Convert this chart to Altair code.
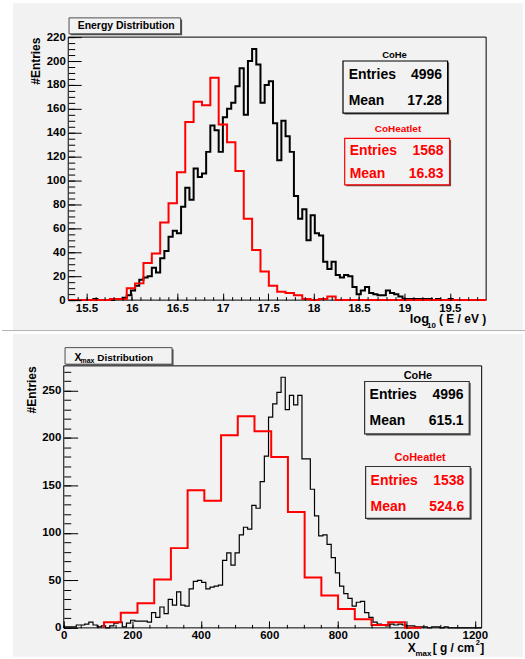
import altair as alt
import pandas as pd

FONT = "Liberation Sans"
PAD = "#f2f2f2"
RED = "#ff0000"

# ---------------- Energy distribution: log10(E / eV) ----------------
energy_domain = [15.3, 19.9]
energy_cohe_start, energy_cohe_width = 15.3, 0.046
energy_cohe_counts = [
    0, 0, 0, 0, 0, 0, 1, 0, 0, 0, 0, 1, 1, 2, 4, 8, 12, 17, 19, 20,
    27, 23, 35, 41, 53, 58, 56, 78, 94, 84, 110, 103, 106, 124, 146, 142, 124, 153, 160, 165,
    179, 194, 155, 200, 210, 197, 165, 180, 183, 148, 117, 150, 137, 124, 87, 68, 76, 50, 71, 56,
    54, 32, 26, 32, 21, 19, 21, 20, 11, 5, 8, 11, 6, 5, 4, 4, 8, 6, 5, 3,
    1, 1, 1, 1, 1, 1, 1, 0, 1, 0, 0, 1, 0, 0, 0, 0, 0, 0, 0, 0,
]
energy_coheatlet_start, energy_coheatlet_width = 15.3, 0.092
energy_coheatlet_counts = [
    0, 0, 0, 0, 0, 1, 1, 10, 14, 31, 39, 65, 81, 107, 149, 166, 163, 186, 147, 132,
    108, 68, 42, 24, 12, 7, 6, 4, 1, 0, 1, 3, 0, 0, 0, 0, 0, 0, 0, 0,
    0, 0, 0, 0, 0, 0, 0, 0, 0, 0,
]
energy_ticks = [15.5, 16, 16.5, 17, 17.5, 18, 18.5, 19, 19.5]
energy_minor = [round(15.4 + 0.1 * i, 1) for i in range(45)]
energy_count_ticks = list(range(0, 221, 20))
energy_count_minor = list(range(0, 221, 5))

# ---------------- Xmax distribution (g / cm^2) ----------------
xmax_domain = [0, 1220]
xmax_cohe_start, xmax_cohe_width = 0, 12.2
xmax_cohe_counts = [
    1, 1, 1, 3, 3, 4, 6, 3, 1, 2, 0, 2, 5, 6, 1, 5, 8, 7, 7, 7,
    6, 16, 11, 22, 15, 30, 24, 38, 24, 23, 41, 49, 50, 48, 41, 43, 44, 45, 71, 79,
    66, 79, 98, 106, 104, 129, 126, 154, 181, 222, 236, 248, 264, 230, 245, 235, 245, 178, 178, 146,
    118, 97, 98, 88, 74, 58, 44, 36, 31, 23, 27, 28, 16, 11, 6, 4, 3, 2, 4, 3,
    4, 3, 2, 2, 1, 1, 1, 0, 1, 1, 0, 1, 0, 0, 0, 0, 0, 0, 0, 0,
]
xmax_coheatlet_start, xmax_coheatlet_width = 117.6, 48.8
xmax_coheatlet_counts = [6, 16, 26, 51, 84, 145, 134, 203, 223, 207, 180, 122, 53, 34, 20, 9, 3, 6, 0]
xmax_ticks = [0, 200, 400, 600, 800, 1000, 1200]
xmax_minor = list(range(0, 1201, 50))
xmax_count_ticks = [0, 50, 100, 150, 200, 250]
xmax_count_minor = list(range(0, 271, 10))

# Statistics boxes
energy_stats = {"CoHe": (4996, "17.28"), "CoHeatlet": (1568, "16.83")}
xmax_stats = {"CoHe": (4996, "615.1"), "CoHeatlet": (1538, "524.6")}

W = 424
ONE = [{"k": 0}]


def outline(start, width, counts):
    """Closed step outline of a histogram, in data units."""
    edges = [start + width * i for i in range(len(counts) + 1)]
    xs, ys = [edges[0]], [0]
    for i, c in enumerate(counts):
        xs += [edges[i], edges[i + 1]]
        ys += [c, c]
    xs.append(edges[-1])
    ys.append(0)
    return pd.DataFrame({"x": xs, "y": ys, "i": range(len(xs))})


def rect(x1, x2, y1, y2, **style):
    return alt.Chart(alt.Data(values=ONE)).mark_rect(**style).encode(
        x=alt.value(x1), x2=alt.value(x2), y=alt.value(y1), y2=alt.value(y2)
    )


def label(x, y, s, size, color="black", align="left"):
    return alt.Chart(alt.Data(values=ONE)).mark_text(
        font=FONT, fontSize=size, fontWeight="bold", color=color, align=align,
        baseline="alphabetic",
    ).encode(x=alt.value(x), y=alt.value(y), text=alt.value(s))


def title_box(x1, x2, y1, y2):
    return [
        rect(x1 + 1.5, x2 + 1.5, y1 + 1.5, y2 + 1.5, fill="#4d4d4d"),
        rect(x1, x2, y1, y2, fill=PAD, stroke="#4d4d4d", strokeWidth=1),
    ]


def stat_box(x1, x2, y1, y2, border, name, name_x, name_y, name_size, color,
             entries, mean, text_x, value_x, entries_y, mean_y):
    return [
        label(name_x, name_y, name, name_size, color, "center"),
        rect(x1 + 1.5, x2 + 1.5, y1 + 1.5, y2 + 1.5, fill="#555555"),
        rect(x1, x2, y1, y2, fill=PAD, stroke=border, strokeWidth=1.2),
        label(text_x, entries_y, "Entries", 14, color),
        label(value_x, entries_y, str(entries), 14, color, "right"),
        label(text_x, mean_y, "Mean", 14, color),
        label(value_x, mean_y, mean, 14, color, "right"),
    ]


def panel(height, x_domain, x_range, y_domain, x_ticks, x_minor, y_ticks, y_minor,
          x_fmt, y_len, y_minor_len, black_df, red_df, black_width, y_title_x,
          pad_y, decorations):
    left = x_range[0]
    xs = alt.Scale(domain=x_domain, range=x_range, nice=False, zero=False)
    ys = alt.Scale(domain=y_domain, nice=False, zero=False)
    lab = dict(labelFont=FONT, labelFontSize=11.5, labelFontWeight="bold",
               labelColor="black", grid=False, domain=False, zindex=1)
    tick = dict(labels=False, grid=False, domain=False, tickColor="black",
                tickWidth=1, title=None, zindex=1)

    x_lab = alt.Axis(orient="bottom", values=x_ticks, format=x_fmt, ticks=False,
                     tickSize=0, labelPadding=2, labelFlush=False,
                     labelOverlap=False, title=None, **lab)
    y_lab = alt.Axis(orient="left", offset=-left, values=y_ticks, ticks=False,
                     tickSize=0, labelPadding=3, labelOverlap=False,
                     title="#Entries", titleFont=FONT, titleFontSize=12,
                     titleFontWeight="bold", titleColor="black", titleAngle=270,
                     titleAlign="right", titleBaseline="middle",
                     titleX=y_title_x, titleY=0, **lab)
    x_major = alt.Axis(orient="top", offset=-height, values=x_ticks, tickSize=7, **tick)
    y_major = alt.Axis(orient="right", offset=-(W - left), values=y_ticks,
                       tickSize=y_len, **tick)
    x_min = alt.Axis(orient="top", offset=-height, values=x_minor, tickSize=3.5, **tick)
    y_min = alt.Axis(orient="right", offset=-(W - left), values=y_minor,
                     tickSize=y_minor_len, **tick)

    black = alt.Chart(black_df).mark_line(color="black", strokeWidth=black_width).encode(
        x=alt.X("x:Q", scale=xs, axis=x_lab),
        y=alt.Y("y:Q", scale=ys, axis=y_lab),
        order="i:Q",
    )
    red = alt.Chart(red_df).mark_line(color=RED, strokeWidth=2).encode(
        x=alt.X("x:Q", scale=xs, axis=x_major),
        y=alt.Y("y:Q", scale=ys, axis=y_major),
        order="i:Q",
    )
    minor = alt.Chart(alt.Data(values=[{"x": x_domain[0], "y": 0}])).mark_point(
        opacity=0
    ).encode(
        x=alt.X("x:Q", scale=xs, axis=x_min),
        y=alt.Y("y:Q", scale=ys, axis=y_min),
    )

    pad = rect(-51, 461, pad_y[0], pad_y[1], fill=PAD)
    frame = rect(left, x_range[1], 0, height, fillOpacity=0, stroke="black", strokeWidth=1)

    layers = [pad, frame, black, red, minor] + decorations
    return alt.layer(*layers).resolve_axis(x="independent", y="independent").properties(
        width=W, height=height
    )


# ---------------- top panel ----------------
H_TOP = 264
top_decor = (
    title_box(5.3, 117.3, -19.3, -3.3)
    + [label(14, -7.7, "Energy Distribution", 10.5)]
    + stat_box(280.3, 385.3, 24, 76.3, "black", "CoHe", 332, 21.3, 9.5, "black",
               energy_stats["CoHe"][0], energy_stats["CoHe"][1], 286, 379.7, 42.3, 68)
    + stat_box(282, 387.3, 101.7, 148.3, RED, "CoHeatlet", 335.5, 95.7, 10, RED,
               energy_stats["CoHeatlet"][0], energy_stats["CoHeatlet"][1], 287, 381.3, 118, 141.3)
    + [
        label(347.3, 286.7, "log", 13),
        label(364.7, 291.7, "10", 8),
        label(424, 286.7, "( E / eV )", 12, "black", "right"),
        # thin divider under the upper pad, across the whole canvas
        rect(-62, 463, 294, 295, fill="#b4b4b4"),
    ]
)
top = panel(
    H_TOP, energy_domain, [4.5, W], [0, 220], energy_ticks, energy_minor,
    energy_count_ticks, energy_count_minor, "~g", 13, 6.5,
    outline(energy_cohe_start, energy_cohe_width, energy_cohe_counts),
    outline(energy_coheatlet_start, energy_coheatlet_width, energy_coheatlet_counts),
    2, -33, (-34, 294), top_decor,
)

# ---------------- bottom panel ----------------
H_BOT = 263
bot_decor = (
    title_box(1.3, 108.7, -18.3, -1.7)
    + [
        label(10.7, -5, "X", 10.5),
        label(16.8, -2.5, "max", 7),
        label(33.7, -5, "Distribution", 10),
    ]
    + stat_box(302, 407, 15.7, 68.3, "#333333", "CoHe", 355.5, 13, 11, "black",
               xmax_stats["CoHe"][0], xmax_stats["CoHe"][1], 307, 401.3, 33, 59.7)
    + stat_box(303, 408, 101, 153, "#333333", "CoHeatlet", 357.7, 95.7, 11, RED,
               xmax_stats["CoHeatlet"][0], xmax_stats["CoHeatlet"][1], 308, 402, 119.3, 145.7)
    + [
        label(345.3, 287.3, "X", 12),
        label(353, 291, "max", 8),
        label(370.3, 287.3, "[ g / cm", 12),
        label(413.5, 280.5, "2", 7.5),
        label(418, 287.3, "]", 12),
    ]
)
bottom = panel(
    H_BOT, xmax_domain, [0, 419.5], [0, 276], xmax_ticks, xmax_minor,
    xmax_count_ticks, xmax_count_minor, "d", 14, 7,
    outline(xmax_cohe_start, xmax_cohe_width, xmax_cohe_counts),
    outline(xmax_coheatlet_start, xmax_coheatlet_width, xmax_coheatlet_counts),
    1.2, -32.3, (-32, 292), bot_decor,
)

chart = alt.vconcat(top, bottom, spacing=3).properties(
    padding={"left": 2, "top": 2, "right": 0, "bottom": 1},
    background="white",
).configure_view(strokeWidth=0)

chart.save("out.html", embed_options={"renderer": "svg", "actions": False})
